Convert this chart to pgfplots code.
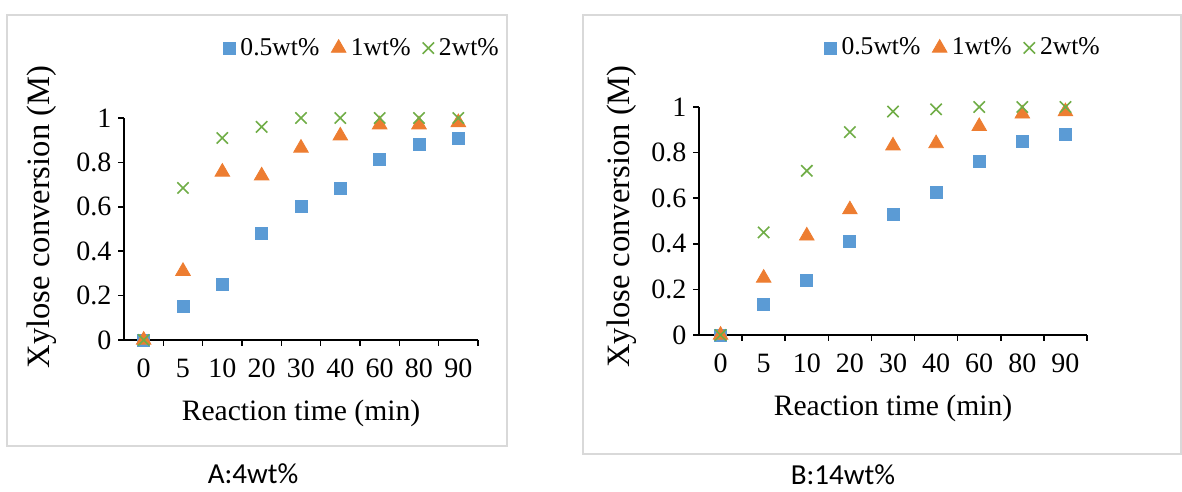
\documentclass[border=0pt]{standalone}
\usepackage{pgfplots}
\pgfplotsset{compat=1.18}
\usepackage{fontspec}
\setmainfont{Liberation Serif}
\newfontfamily\capfont{Carlito}
\definecolor{xblue}{HTML}{5B9BD5}
\definecolor{xorange}{HTML}{ED7D31}
\definecolor{xgreen}{HTML}{70AD47}
\definecolor{boxgray}{HTML}{D9D9D9}

\pgfplotsset{
  xyl/.style={
    scale only axis,
    axis lines=left,
    axis line style={-, line width=0.75pt},
    xmin=-0.5, xmax=8.5, ymin=0, ymax=1,
    xtick={0,...,8},
    xticklabels={0,5,10,20,30,40,60,80,90},
    minor xtick={0.5,1.5,...,8.5},
    major x tick style={draw=none},
    ytick={0,0.2,0.4,0.6,0.8,1},
    tick align=outside,
    tick style={black, line width=0.75pt},
    major tick length=2.8pt, minor tick length=2.8pt,
    ticklabel style={font=\fontsize{14}{14}\selectfont},
    xticklabel style={yshift=-3pt},
    /pgf/number format/assume math mode=true,
    xlabel={Reaction time (min)},
    ylabel={Xylose conversion (M)},
    xlabel style={font=\fontsize{14.8}{14.8}\selectfont, anchor=center},
    ylabel style={font=\fontsize{16.3}{16.3}\selectfont, anchor=center},
    legend columns=-1,
    legend image code/.code={\draw[#1] plot coordinates {(0cm,0cm)};},
    legend style={draw=none, fill=none, font=\fontsize{12.8}{12.8}\selectfont,
      anchor=center, nodes={inner xsep=1.5pt},
      /tikz/every odd column/.append style={column sep=1pt},
      /tikz/every even column/.append style={column sep=4.5pt}},
    legend cell align=left,
    clip=false,
  },
  s1/.style={only marks, mark=square*, mark size=3pt, color=xblue},
  s2/.style={only marks, mark=triangle*, mark size=4.2pt, color=xorange},
  s3/.style={only marks, mark=x, mark size=4pt, color=xgreen, line width=0.8pt},
}

\begin{document}
\begin{tikzpicture}
  \path (0,0) rectangle (591pt,-244.5pt);
  \draw[boxgray, line width=0.8pt] (3.5pt,-7.5pt) rectangle (253.5pt,-223pt);
  \draw[boxgray, line width=0.8pt] (291.5pt,-7.5pt) rectangle (590.5pt,-227pt);

  % panel A: 4wt%
  \begin{axis}[xyl,
      at={(62pt,-170pt)}, anchor=south west,
      width=177pt, height=111pt,
      xlabel style={at={(axis description cs:0.5,-0.329)}},
      ylabel style={at={(axis description cs:-0.232,0.554)}},
      legend style={at={(0.674,1.315)}},
    ]
    \addplot[s1] coordinates {(0,0) (1,0.15) (2,0.25) (3,0.48) (4,0.60) (5,0.685) (6,0.815) (7,0.88) (8,0.91)};
    \addplot[s2] coordinates {(0,0) (1,0.31) (2,0.757) (3,0.74) (4,0.865) (5,0.92) (6,0.97) (7,0.97) (8,0.98)};
    \addplot[s3] coordinates {(0,0) (1,0.685) (2,0.91) (3,0.96) (4,1.0) (5,1.0) (6,1.0) (7,1.0) (8,1.0)};
    \legend{0.5wt\%, 1wt\%, 2wt\%}
  \end{axis}

  % panel B: 14wt%
  \begin{axis}[xyl,
      at={(349.5pt,-167.5pt)}, anchor=south west,
      width=194pt, height=114pt,
      xlabel style={at={(axis description cs:0.5,-0.32)}},
      ylabel style={at={(axis description cs:-0.2,0.52)}},
      legend style={at={(0.682,1.259)}},
    ]
    \addplot[s1] coordinates {(0,0) (1,0.136) (2,0.24) (3,0.41) (4,0.53) (5,0.625) (6,0.76) (7,0.85) (8,0.88)};
    \addplot[s2] coordinates {(0,0) (1,0.25) (2,0.435) (3,0.55) (4,0.83) (5,0.84) (6,0.915) (7,0.97) (8,0.98)};
    \addplot[s3] coordinates {(0,0) (1,0.45) (2,0.72) (3,0.89) (4,0.98) (5,0.99) (6,1.0) (7,1.0) (8,1.0)};
    \legend{0.5wt\%, 1wt\%, 2wt\%}
  \end{axis}

  \node[font=\capfont\fontsize{14.5}{14.5}\selectfont] at (126.5pt,-237pt) {A:4wt\%};
  \node[font=\capfont\fontsize{14.5}{14.5}\selectfont] at (421.5pt,-237.5pt) {B:14wt\%};
\end{tikzpicture}
\end{document}
